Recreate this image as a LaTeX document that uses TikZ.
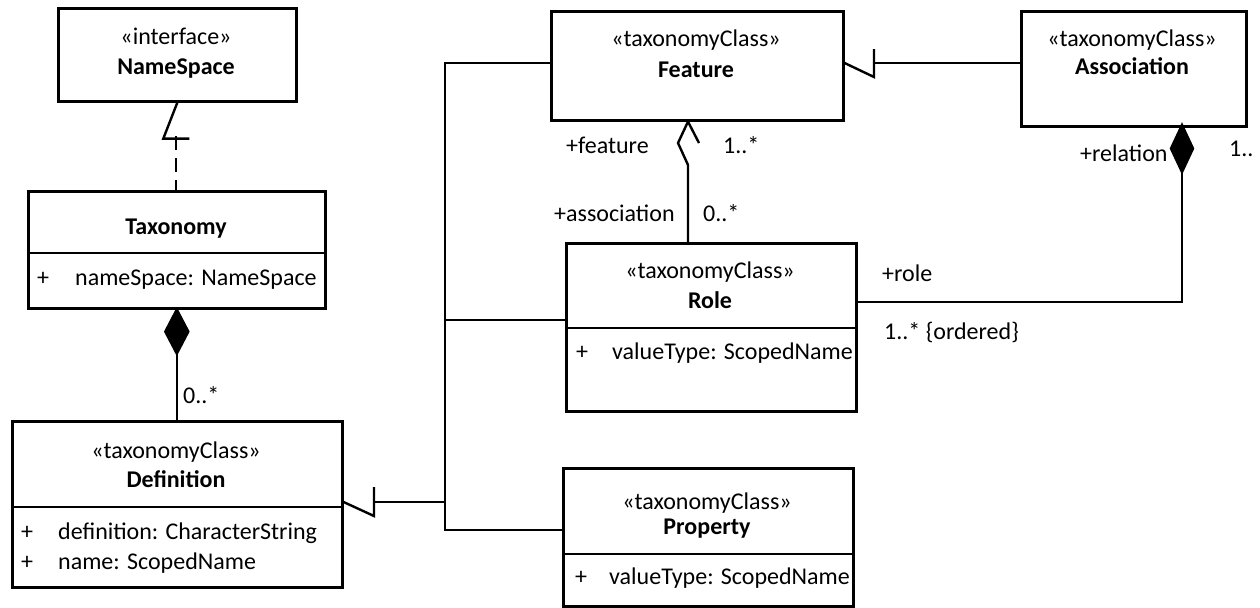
\documentclass[tikz,border=0pt]{standalone}
\usepackage{fontspec}
\setmainfont{Carlito}
\begin{document}
\begin{tikzpicture}[x=0.5pt,y=-0.5pt,line width=1.2pt,
  box/.style={draw,line width=1.3pt,anchor=north west,inner sep=0pt},
  txt/.style={inner sep=0pt,text height=9pt,text depth=2.5pt,font=\fontsize{12}{14}\selectfont},
  lbl/.style={txt,anchor=west},
  realdash/.style={dash pattern=on 7pt off 4pt}]
\useasboundingbox (0,0) rectangle (1260,607);

% boxes
\node[box,minimum width=119pt,minimum height=46.5pt] (ns) at (57,7) {};
\node[box,minimum width=148.5pt,minimum height=58.5pt] (tax) at (27,190) {};
\node[box,minimum width=165pt,minimum height=83pt] (def) at (11,420) {};
\node[box,minimum width=146pt,minimum height=54.5pt] (feat) at (550,10) {};
\node[box,minimum width=112.5pt,minimum height=57.5pt] (assoc) at (1020,10) {};
\node[box,minimum width=145pt,minimum height=84pt] (role) at (565,242) {};
\node[box,minimum width=145pt,minimum height=69pt] (prop) at (562,467) {};

% dividers
\draw[line width=1.3pt] (27,253) -- (324,253);
\draw[line width=1.3pt] (11,507) -- (341,507);
\draw[line width=1.3pt] (565,328) -- (855,328);
\draw[line width=1.3pt] (562,554) -- (852,554);

% texts
\node[txt] (t1) at (176,38) {«interface»};
\node[txt] (t2) at (176,68) {\textbf{NameSpace}};
\node[txt] (t3) at (176,228) {\textbf{Taxonomy}};
\node[txt] (t4) at (43,279) {+};
\node[lbl] (t5) at (74,279) {nameSpace: NameSpace};
\node[txt] (t6) at (176,452) {«taxonomyClass»};
\node[txt] (t7) at (176,481) {\textbf{Definition}};
\node[txt] (t8) at (27,533) {+};
\node[lbl] (t9) at (57,533) {definition: CharacterString};
\node[txt] (t10) at (27,563) {+};
\node[lbl] (t11) at (57,563) {name: ScopedName};
\node[txt] (t12) at (696,40) {«taxonomyClass»};
\node[txt] (t13) at (696,71) {\textbf{Feature}};
\node[txt] (t14) at (1132,40) {«taxonomyClass»};
\node[txt] (t15) at (1132,68) {\textbf{Association}};
\node[txt] (t16) at (710,272) {«taxonomyClass»};
\node[txt] (t17) at (710,302) {\textbf{Role}};
\node[txt] (t18) at (582,353) {+};
\node[lbl] (t19) at (611,353) {valueType: ScopedName};
\node[txt] (t20) at (707,503) {«taxonomyClass»};
\node[txt] (t21) at (707,528) {\textbf{Property}};
\node[txt] (t22) at (581,578) {+};
\node[lbl] (t23) at (608,578) {valueType: ScopedName};

% connector labels
\node[lbl] (l1) at (182,397) {0..*};
\node[lbl] (l2) at (565,147) {+feature};
\node[lbl] (l3) at (722,147) {1..*};
\node[lbl] (l4) at (553,215) {+association};
\node[lbl] (l5) at (702,215) {0..*};
\node[lbl] (l6) at (881,275) {+role};
\node[lbl] (l7) at (883,333) {1..* \{ordered\}};
\node[lbl] (l8) at (1079,155) {+relation};
\node[lbl] (l9) at (1228,150) {1..};

% NameSpace <- Taxonomy (realization)
\coordinate (nsb) at (176,136);
\draw (ns.south) -- ++(-14,36) -- ++(26,0);
\draw[realdash] (nsb) -- (nsb |- tax.north);

% Taxonomy composition Definition
\draw[fill=black] (tax.south) -- ++(-11.5,22) coordinate (tdl) -- ++(11.5,22) coordinate (td) -- ++(11.5,-22) -- cycle;
\draw (td) -- (td |- def.north);

% bus to Definition
\coordinate (b1) at (445,63);
\coordinate (b2) at (445,320);
\coordinate (b3) at (445,502);
\coordinate (b4) at (445,530);
\draw (feat.west |- b1) -- (b1) -- (b4) -- (prop.west |- b4);
\draw (b2) -- (role.west |- b2);
\coordinate (dgb) at (374,502);
\draw (b3) -- (dgb);
\draw (374,487) -- (374,516) -- (def.east |- b3);

% Association -> Feature
\coordinate (aw) at (assoc.west |- b1);
\coordinate (fgb) at (874,63);
\draw (aw) -- (fgb);
\draw (874,49) -- (874,77) -- (feat.east |- b1);

% Role -> Feature
\coordinate (rt) at (688,242);
\coordinate (fa) at (688,165);
\draw (rt) -- (fa) -- (678,143) -- (feat.south -| fa) -- (699,143);

% Association composition Role
\coordinate (ad) at (1182,125);
\draw[fill=black] (ad) -- ++(-11,23.5) -- ++(11,23.5) coordinate (adb) -- ++(11,-23.5) -- cycle;
\coordinate (rr) at (1182,302);
\draw (adb) -- (rr) -- (role.east |- rr);
\end{tikzpicture}
\end{document}
